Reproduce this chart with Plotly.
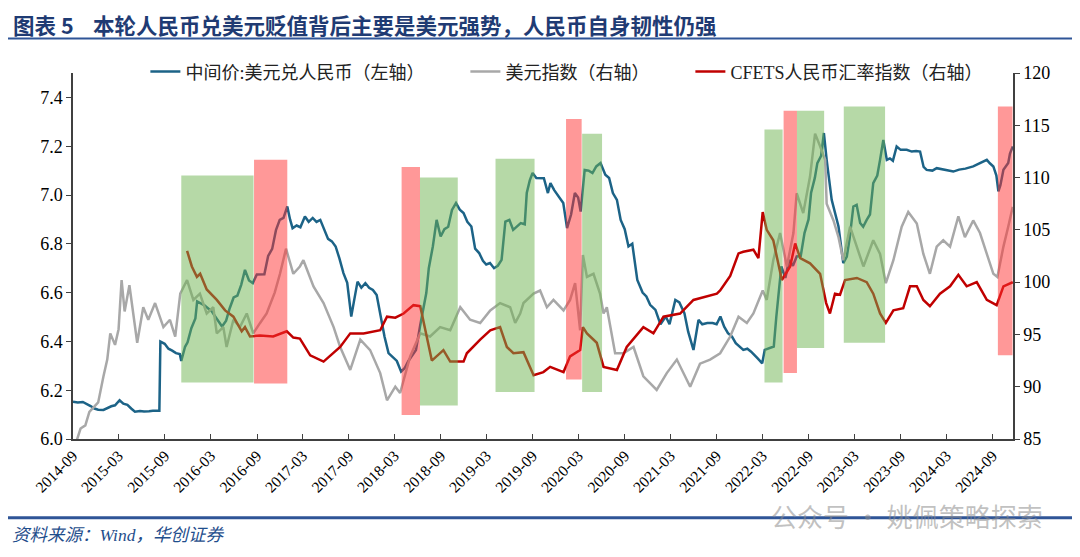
import plotly.graph_objects as go

# ---------------- data ----------------
cny_dates = ["2014-09-01","2014-09-20","2014-10-10","2014-10-25","2014-11-10","2014-11-25","2014-12-10","2014-12-31",
"2015-01-15","2015-01-31","2015-02-15","2015-03-05","2015-03-20","2015-04-05","2015-04-20","2015-05-05","2015-05-25",
"2015-06-10","2015-06-30","2015-07-15","2015-08-10","2015-08-12","2015-08-14","2015-08-31","2015-09-15","2015-09-30",
"2015-10-15","2015-10-30","2015-11-05","2015-11-20","2015-11-30","2015-12-15","2015-12-31","2016-01-07","2016-01-20",
"2016-02-05","2016-02-20","2016-03-05","2016-03-20","2016-04-05","2016-04-15","2016-05-01","2016-05-15","2016-05-31",
"2016-06-15","2016-06-30","2016-07-15","2016-07-31","2016-08-15","2016-08-31","2016-09-15","2016-09-30","2016-10-15",
"2016-10-31","2016-11-15","2016-11-30","2016-12-15","2016-12-30","2017-01-10","2017-01-20","2017-02-05","2017-02-20",
"2017-03-10","2017-03-25","2017-04-10","2017-04-25","2017-05-10","2017-05-25","2017-06-10","2017-06-25","2017-07-10",
"2017-07-25","2017-08-10","2017-08-25","2017-09-10","2017-09-20","2017-10-05","2017-10-20","2017-11-05","2017-11-20",
"2017-12-05","2017-12-20","2018-01-05","2018-01-20","2018-02-05","2018-02-20","2018-03-10","2018-03-27","2018-04-10",
"2018-04-25","2018-05-10","2018-05-25","2018-06-10","2018-06-20","2018-07-05","2018-07-15","2018-07-31","2018-08-15",
"2018-08-31","2018-09-15","2018-09-30","2018-10-15","2018-10-31","2018-11-15","2018-11-30","2018-12-15","2018-12-31",
"2019-01-15","2019-01-31","2019-02-15","2019-02-28","2019-03-15","2019-03-31","2019-04-15","2019-04-30","2019-05-15",
"2019-05-31","2019-06-15","2019-06-30","2019-07-15","2019-07-31","2019-08-08","2019-08-20","2019-08-31","2019-09-15",
"2019-09-30","2019-10-15","2019-10-31","2019-11-10","2019-11-25","2019-12-10","2019-12-31","2020-01-15","2020-01-31",
"2020-02-15","2020-02-28","2020-03-09","2020-03-25","2020-04-10","2020-04-25","2020-05-10","2020-05-27","2020-06-15",
"2020-06-30","2020-07-15","2020-07-31","2020-08-15","2020-08-31","2020-09-15","2020-09-30","2020-10-20","2020-11-10",
"2020-11-25","2020-12-10","2020-12-31","2021-01-20","2021-02-10","2021-02-25","2021-03-20","2021-04-05","2021-04-25",
"2021-05-10","2021-05-31","2021-06-20","2021-07-05","2021-07-25","2021-08-15","2021-08-31","2021-09-15","2021-09-30",
"2021-10-15","2021-10-31","2021-11-15","2021-11-30","2021-12-15","2021-12-31","2022-01-15","2022-02-10","2022-02-28",
"2022-03-10","2022-03-25","2022-04-15","2022-04-25","2022-05-05","2022-05-15","2022-05-31","2022-06-15","2022-06-30",
"2022-07-15","2022-07-31","2022-08-15","2022-08-31","2022-09-10","2022-09-25","2022-10-05","2022-10-20","2022-10-31",
"2022-11-11","2022-12-01","2022-12-28","2023-01-16","2023-01-30","2023-02-10","2023-02-25","2023-03-10","2023-03-24",
"2023-04-05","2023-04-19","2023-05-02","2023-05-15","2023-05-31","2023-06-11","2023-06-24","2023-07-08","2023-07-20",
"2023-08-01","2023-08-16","2023-09-01","2023-09-25","2023-10-15","2023-11-01","2023-11-17","2023-12-01","2023-12-13",
"2024-01-05","2024-01-22","2024-02-15","2024-03-05","2024-03-28","2024-04-20","2024-05-15","2024-06-15","2024-07-10",
"2024-07-25","2024-08-08","2024-08-20","2024-09-03","2024-09-15","2024-09-23","2024-10-01","2024-10-13","2024-11-01",
"2024-11-08","2024-11-19"]
cny_values = [6.153,6.150,6.152,6.145,6.135,6.125,6.120,6.119,
6.127,6.134,6.138,6.159,6.145,6.140,6.125,6.112,6.115,
6.113,6.114,6.116,6.116,6.330,6.399,6.390,6.370,6.362,
6.352,6.348,6.320,6.378,6.396,6.454,6.494,6.564,6.558,
6.548,6.535,6.523,6.500,6.475,6.461,6.485,6.535,6.580,
6.588,6.632,6.693,6.650,6.639,6.674,6.676,6.675,6.750,
6.779,6.856,6.898,6.906,6.953,6.900,6.864,6.875,6.868,
6.912,6.890,6.906,6.890,6.898,6.862,6.820,6.810,6.789,
6.740,6.680,6.640,6.502,6.560,6.645,6.620,6.639,6.620,
6.611,6.590,6.502,6.420,6.352,6.338,6.320,6.276,6.290,
6.320,6.345,6.365,6.461,6.520,6.598,6.700,6.789,6.898,
6.830,6.860,6.870,6.939,6.967,6.940,6.926,6.890,6.871,
6.780,6.762,6.730,6.715,6.721,6.700,6.710,6.734,6.891,
6.898,6.857,6.870,6.885,6.880,7.008,7.060,7.090,7.070,
7.069,7.069,7.008,7.049,7.020,7.000,6.967,6.864,6.920,
7.008,6.990,6.932,7.103,7.100,7.090,7.117,7.131,7.083,
7.070,7.008,6.980,6.898,6.860,6.789,6.800,6.652,6.600,
6.584,6.550,6.529,6.470,6.502,6.470,6.570,6.560,6.516,
6.440,6.365,6.488,6.470,6.475,6.475,6.470,6.502,6.460,
6.434,6.420,6.393,6.380,6.365,6.370,6.358,6.330,6.310,
6.365,6.370,6.379,6.500,6.598,6.707,6.660,6.734,6.710,
6.748,6.750,6.844,6.900,7.008,7.070,7.131,7.160,7.254,
7.144,6.980,6.871,6.721,6.748,6.820,6.953,6.960,6.885,
6.870,6.898,6.920,7.049,7.080,7.144,7.226,7.144,7.150,
7.140,7.199,7.185,7.185,7.178,7.180,7.178,7.115,7.103,
7.100,7.110,7.105,7.098,7.096,7.104,7.108,7.117,7.130,
7.135,7.144,7.130,7.117,7.080,7.015,7.040,7.103,7.131,
7.170,7.199]

dxy_dates = ["2014-09-01","2014-09-15","2014-10-01","2014-10-20","2014-11-05","2014-11-20","2014-12-10","2014-12-31",
"2015-01-15","2015-01-27","2015-02-15","2015-03-01","2015-03-13","2015-03-25","2015-04-03","2015-04-13","2015-05-14",
"2015-06-07","2015-06-27","2015-07-24","2015-08-26","2015-09-21","2015-10-12","2015-11-01","2015-11-28","2015-12-23",
"2016-01-18","2016-02-14","2016-03-11","2016-03-25","2016-04-20","2016-05-03","2016-05-30","2016-06-25","2016-07-22",
"2016-08-17","2016-09-13","2016-10-09","2016-11-10","2016-12-01","2016-12-25","2017-01-23","2017-02-18","2017-03-04",
"2017-04-13","2017-05-23","2017-07-02","2017-07-28","2017-09-06","2017-10-16","2017-11-24","2018-01-03","2018-01-30",
"2018-03-04","2018-03-23","2018-05-02","2018-06-11","2018-07-20","2018-08-29","2018-10-08","2018-11-17","2018-12-26",
"2019-02-04","2019-03-16","2019-04-24","2019-06-03","2019-06-23","2019-07-13","2019-07-26","2019-09-04","2019-09-30",
"2019-10-27","2019-11-22","2020-01-01","2020-01-27","2020-02-16","2020-03-07","2020-03-18","2020-04-03","2020-04-29",
"2020-05-25","2020-06-08","2020-06-21","2020-07-24","2020-08-26","2020-10-05","2020-11-13","2021-01-05","2021-02-14",
"2021-03-26","2021-05-18","2021-06-26","2021-08-05","2021-09-14","2021-10-24","2021-11-26","2021-12-29","2022-01-24",
"2022-03-02","2022-03-18","2022-04-13","2022-05-10","2022-06-06","2022-07-02","2022-07-15","2022-08-10","2022-09-06",
"2022-09-26","2022-10-16","2022-11-05","2022-11-11","2022-12-08","2022-12-28","2023-01-16","2023-02-12","2023-03-11",
"2023-04-06","2023-05-15","2023-06-11","2023-07-04","2023-08-03","2023-09-05","2023-10-01","2023-11-04","2023-11-30",
"2023-12-26","2024-01-22","2024-02-17","2024-03-15","2024-04-17","2024-05-13","2024-06-15","2024-07-12","2024-08-08",
"2024-09-03","2024-09-19","2024-10-13","2024-11-01","2024-11-19"]
dxy_values = [84.0,84.8,86.0,86.3,87.6,88.0,88.5,91.0,
92.6,95.1,94.0,95.5,100.2,97.2,98.3,99.7,94.2,
97.6,96.4,98.0,95.7,96.4,94.8,98.9,100.2,98.3,
98.9,97.0,97.6,95.1,95.7,93.8,96.4,95.7,97.0,
95.1,96.1,97.0,99.0,100.8,103.2,100.8,101.5,102.1,
99.6,98.0,95.7,93.8,91.6,94.5,93.5,91.3,88.7,
90.0,89.4,92.9,95.1,94.8,95.7,95.4,97.6,96.4,
96.1,97.3,98.0,97.6,96.1,97.0,98.0,98.9,99.2,
97.6,98.3,97.3,98.3,99.9,95.4,102.6,100.5,100.8,
98.9,97.0,97.6,93.2,93.2,93.8,91.0,89.7,91.3,
92.6,90.0,92.2,92.6,93.2,94.8,96.7,96.1,97.0,
99.2,98.3,102.1,104.7,101.5,104.7,108.5,106.6,110.1,
114.2,113.0,111.7,107.5,105.9,104.3,102.1,105.3,103.4,
101.5,104.0,102.7,99.9,102.1,105.3,106.7,105.6,102.7,
100.8,103.4,104.0,103.4,106.3,104.3,105.9,104.7,102.7,
100.8,100.5,103.4,105.3,107.2]

cfets_dates = ["2015-11-28","2015-12-17","2016-01-06","2016-01-19","2016-02-14","2016-03-25","2016-04-27","2016-05-16",
"2016-05-30","2016-07-02","2016-07-15","2016-08-04","2016-09-13","2016-11-04","2016-12-28","2017-01-23","2017-02-18",
"2017-03-31","2017-05-23","2017-07-28","2017-09-06","2017-10-29","2018-01-03","2018-01-30","2018-03-04","2018-04-06",
"2018-05-15","2018-06-11","2018-07-07","2018-07-27","2018-09-11","2018-10-08","2018-11-30","2018-12-13","2019-02-04",
"2019-03-16","2019-04-24","2019-05-21","2019-06-16","2019-07-26","2019-09-04","2019-10-13","2019-11-09","2020-01-01",
"2020-01-27","2020-03-07","2020-03-18","2020-04-03","2020-05-12","2020-06-08","2020-07-31","2020-09-08","2020-11-13",
"2020-12-23","2021-02-01","2021-04-08","2021-05-31","2021-07-23","2021-09-01","2021-09-14","2021-10-24","2021-11-26",
"2021-12-15","2022-01-24","2022-02-13","2022-03-02","2022-03-18","2022-04-13","2022-05-17","2022-06-19","2022-07-09",
"2022-07-29","2022-09-06","2022-10-16","2022-11-09","2022-11-24","2022-12-14","2023-01-03","2023-01-23","2023-03-11",
"2023-04-19","2023-05-15","2023-06-11","2023-07-04","2023-08-03","2023-09-11","2023-10-08","2023-11-04","2023-11-30",
"2023-12-26","2024-02-04","2024-03-15","2024-04-17","2024-05-20","2024-06-29","2024-08-08","2024-09-16","2024-10-13",
"2024-11-19"]
cfets_values = [103.0,101.5,100.5,100.8,99.3,98.3,97.3,97.0,
96.7,95.3,95.7,94.8,94.9,94.8,95.3,94.7,94.6,
93.0,92.4,93.8,95.1,95.1,95.4,96.7,96.6,97.0,
97.8,97.7,94.8,92.5,93.5,92.4,92.4,93.2,94.5,
95.4,95.7,93.8,93.2,93.3,91.1,91.4,91.9,91.4,
92.9,93.5,95.7,95.1,94.2,91.9,91.6,93.8,95.7,
95.1,96.7,97.0,98.3,98.6,98.9,99.2,100.6,102.75,
102.9,103.1,102.3,106.7,105.0,104.0,100.2,101.5,103.7,
102.3,101.8,100.8,98.0,97.0,98.9,98.8,100.2,100.4,
100.0,98.9,97.0,96.1,97.3,97.5,99.6,99.6,98.3,
97.7,98.9,99.6,100.7,99.6,100.0,98.3,97.8,99.6,
100.0]

# shaded periods (right-axis units)
band_start = ["2015-11-05","2016-08-20","2018-03-29","2018-06-10","2019-04-06","2020-01-11",
              "2020-03-15","2022-03-09","2022-05-24","2022-07-16","2023-01-18","2024-09-21"]
band_end   = ["2016-08-18","2016-12-30","2018-06-10","2018-11-07","2019-09-08","2020-03-13",
              "2020-06-02","2022-05-20","2022-07-16","2022-11-01","2023-07-01","2024-11-18"]
band_low   = [90.4, 90.3, 87.3, 88.2, 89.5, 90.7, 89.5, 90.4, 91.3, 93.7, 94.2, 93.0]
band_high  = [110.2, 111.7, 111.0, 110.0, 111.8, 115.6, 114.2, 114.6, 116.4, 116.4, 116.8, 116.8]
band_kind  = ["g","r","r","g","g","r","g","g","r","g","g","r"]

series_names = ["中间价:美元兑人民币（左轴）", "美元指数（右轴）", "CFETS人民币汇率指数（右轴）"]
title_text = "图表 5&nbsp;&nbsp;&nbsp;&nbsp;本轮人民币兑美元贬值背后主要是美元强势，人民币自身韧性仍强"
source_text = "资料来源：Wind，华创证券"
watermark_text = "公众号 · 姚佩策略探索"

# ---------------- figure ----------------
SERIF = "Liberation Serif, Times New Roman, Noto Sans CJK SC, serif"
BLUE = "#1c6387"
GRAY = "#a8a8a8"
RED = "#c00000"
NAVY = "#1f3b73"
legend_pad = ["\u2003\u2003", "\u2003\u2003", ""]

fig = go.Figure()
fig.add_trace(go.Scatter(x=cny_dates, y=cny_values, mode="lines", name=series_names[0] + legend_pad[0],
                         line=dict(color=BLUE, width=2.5), yaxis="y"))
fig.add_trace(go.Scatter(x=dxy_dates, y=dxy_values, mode="lines", name=series_names[1] + legend_pad[1],
                         line=dict(color=GRAY, width=2.5), yaxis="y2"))
fig.add_trace(go.Scatter(x=cfets_dates, y=cfets_values, mode="lines", name=series_names[2] + legend_pad[2],
                         line=dict(color=RED, width=2.5), yaxis="y2"))

fills = {"g": "rgba(110,180,80,0.5)", "r": "rgba(255,50,50,0.5)"}
for s, e, lo, hi, k in zip(band_start, band_end, band_low, band_high, band_kind):
    fig.add_shape(type="rect", xref="x", yref="y2", x0=s, x1=e, y0=lo, y1=hi,
                  fillcolor=fills[k], line=dict(width=0), layer="above")

# title band lines
fig.add_shape(type="line", xref="paper", yref="paper", x0=-0.075, x1=1.08, y0=1.094, y1=1.094,
              line=dict(color="#2f5597", width=2))
fig.add_shape(type="line", xref="paper", yref="paper", x0=-0.075, x1=1.08, y0=-0.215, y1=-0.215,
              line=dict(color="#2f5597", width=3))

fig.add_annotation(text="<b>" + title_text + "</b>", xref="paper", yref="paper",
                   x=-0.066, y=1.133, xanchor="left", yanchor="middle", showarrow=False,
                   font=dict(family="Noto Sans CJK SC, Liberation Serif", size=21.5, color=NAVY))
fig.add_annotation(text="<i>" + source_text + "</i>", xref="paper", yref="paper",
                   x=-0.067, y=-0.262, xanchor="left", yanchor="middle", showarrow=False,
                   font=dict(family="Liberation Serif, Noto Sans CJK SC", size=17.5, color="#1f4e8c"))
fig.add_annotation(text=watermark_text, xref="paper", yref="paper",
                   x=1.034, y=-0.208, xanchor="right", yanchor="middle", showarrow=False,
                   font=dict(family="Noto Sans CJK SC", size=26, color="rgba(140,140,140,0.55)"))

# the page adds an 8px body margin, so the figure is 8px smaller on each axis
fig.update_layout(
    width=1072, height=549,
    margin=dict(l=65, r=67, t=65, b=118),
    paper_bgcolor="white", plot_bgcolor="white",
    showlegend=True,
    legend=dict(orientation="h", x=0.077, xanchor="left", y=1.003, yanchor="middle",
                font=dict(family=SERIF, size=18, color="#222222"),
                bgcolor="rgba(255,255,255,0)", itemwidth=30, tracegroupgap=0),
    xaxis=dict(type="date", range=["2014-09-01", "2024-11-20"], tick0="2014-09-01", dtick="M6",
               tickformat="%Y-%m", tickangle=-45, ticks="inside", ticklen=5, tickcolor="#404040",
               showline=True, linecolor="#404040", linewidth=1.5, showgrid=False, zeroline=False,
               tickfont=dict(family=SERIF, size=15.5, color="black")),
    yaxis=dict(range=[6.0, 7.5], dtick=0.2, tick0=6.0, tickformat=".1f", ticks="outside", ticklen=5,
               tickcolor="#404040", showline=True, linecolor="#404040", linewidth=1.5,
               showgrid=False, zeroline=False, tickfont=dict(family=SERIF, size=18, color="black")),
    yaxis2=dict(range=[85, 120], dtick=5, tick0=85, overlaying="y", side="right", ticks="outside",
                ticklen=5, tickcolor="#404040", showline=True, linecolor="#404040", linewidth=1.5,
                showgrid=False, zeroline=False, tickfont=dict(family=SERIF, size=18, color="black")),
)

fig.write_html("out.html")
